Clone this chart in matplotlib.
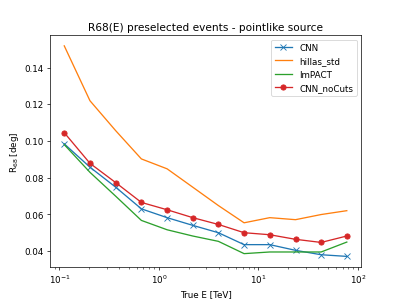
import matplotlib
matplotlib.use('Agg')
import matplotlib.pyplot as plt

# bin centres [TeV]
energy = [0.112, 0.203, 0.368, 0.667, 1.21, 2.19, 3.96, 7.18, 13.0, 23.6, 42.7, 77.3]

r68_cnn = [0.0984, 0.0857, 0.0748, 0.0630, 0.0582, 0.0540, 0.0500, 0.0435, 0.0435, 0.0404, 0.0380, 0.0371]
r68_hillas = [0.1518, 0.1219, 0.1056, 0.0902, 0.0848, 0.0748, 0.0648, 0.0554, 0.0582, 0.0571, 0.0599, 0.0620]
r68_impact = [0.0980, 0.0829, 0.0699, 0.0567, 0.0516, 0.0482, 0.0453, 0.0386, 0.0395, 0.0395, 0.0395, 0.0449]
r68_nocuts = [0.1045, 0.0878, 0.0773, 0.0665, 0.0625, 0.0582, 0.0545, 0.0500, 0.0489, 0.0464, 0.0447, 0.0482]

fig = plt.figure(figsize=(6.4, 4.8), dpi=62.66)
ax = fig.add_subplot(111)

ax.plot(energy, r68_cnn, marker='x', label='CNN')
ax.plot(energy, r68_hillas, label='hillas_std')
ax.plot(energy, r68_impact, label='ImPACT')
ax.plot(energy, r68_nocuts, marker='o', label='CNN_noCuts')

ax.set_xscale('log')
ax.set_xlabel('True E [TeV]')
ax.set_ylabel('R$_{68}$ [deg]')
ax.set_title('R68(E) preselected events - pointlike source')
ax.legend()

fig.savefig('out.png', dpi=62.66)
